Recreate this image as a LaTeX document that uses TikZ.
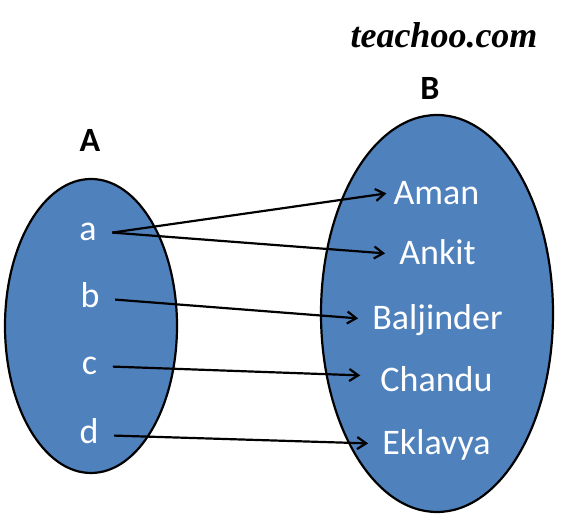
\documentclass[tikz,border=0pt]{standalone}
\usepackage{fontspec}
\usepackage{tikz}
\usetikzlibrary{arrows.meta,positioning,shapes.geometric}
\usepackage{xcolor}
\newfontfamily\calibri{Carlito}
\newfontfamily\logofont{Liberation Serif}
\definecolor{setblue}{RGB}{79,129,189}

\begin{document}
\begin{tikzpicture}[x=1pt,y=1pt,>={Straight Barb[length=9pt,width=12pt]},
    set/.style={draw,ellipse,fill=setblue,line width=2.2pt,inner sep=0pt},
    elem/.style={text=white,font=\calibri\fontsize{36}{40}\selectfont,anchor=base,
      text height=16.8pt,text depth=0pt,inner ysep=0pt,inner xsep=15.5pt},
    member/.style={text=white,font=\calibri\fontsize{36}{40}\selectfont,anchor=base,
      text height=23.2pt,text depth=0pt,inner ysep=0pt,inner xsep=14pt},
    setname/.style={font=\calibri\bfseries\fontsize{34}{38}\selectfont,anchor=base},
    map/.style={->,line width=2.2pt}]
    \useasboundingbox (0,0) rectangle (563,524);
    \node[set,minimum width=172pt,minimum height=294pt] (setA) at (91,198) {};
    \node[set,minimum width=232pt,minimum height=397pt] (setB) at (437,210.5) {};
    \node[setname] (labA) at (90,372) {A};
    \node[setname] (labB) at (430,424) {B};
    \node[font=\logofont\bfseries\itshape\fontsize{36}{40}\selectfont,anchor=base] (logo) at (444,476) {teachoo.com};
    \node[elem] (a) at (88,283) {a};
    \node[elem] (b) at (90,216) {b};
    \node[elem] (c) at (89.5,149) {c};
    \node[elem] (d) at (89,80) {d};
    \node[member] (aman) at (436.5,319) {Aman};
    \node[member] (ankit) at (437.5,259) {Ankit};
    \node[member] (baljinder) at (437.5,194) {Baljinder};
    \node[member] (chandu) at (436.5,132) {Chandu};
    \node[member] (eklavya) at (436.5,69) {Eklavya};
    \draw[map] (a.east)--([xshift=7pt]aman.west);
    \draw[map] (a.east)--(ankit.west);
    \draw[map] (b.east)--(baljinder.west);
    \draw[map] (c.east)--([xshift=-6pt,yshift=5pt]chandu.west);
    \draw[map] (d.east)--(eklavya.west);
  \end{tikzpicture}
\end{document}
